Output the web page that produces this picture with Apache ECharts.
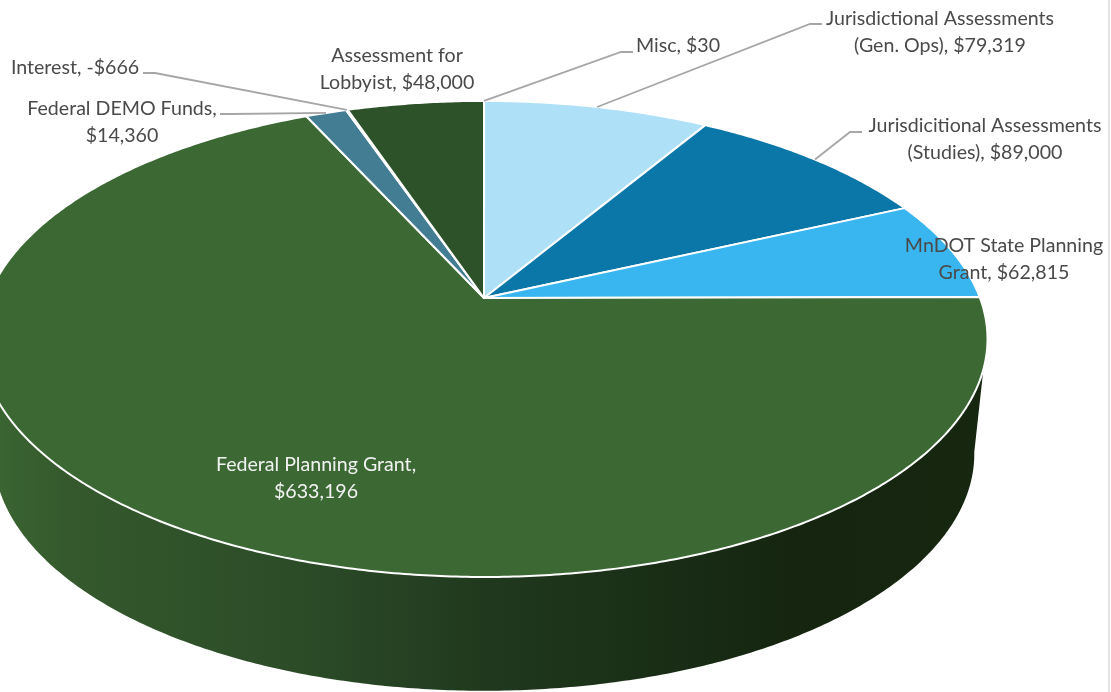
<!DOCTYPE html>
<html>
<head>
<meta charset="utf-8">
<style>html,body{margin:0;padding:0;background:#fff}#chart{width:1111px;height:692px}</style>
<script src="https://cdn.jsdelivr.net/npm/echarts@6/dist/echarts.min.js"></script>
</head>
<body>
<div id="chart"></div>
<script>
// Budget revenue sources, listed clockwise from twelve o'clock.
const sources = [
  'Misc',
  'Jurisdictional Assessments\n(Gen. Ops)',
  'Jurisdicitional Assessments\n(Studies)',
  'MnDOT State Planning\nGrant',
  'Federal Planning Grant',
  'Federal DEMO Funds',
  'Interest',
  'Assessment for\nLobbyist'
];
const amounts = [30, 79319, 89000, 62815, 633196, 14360, -666, 48000];
const sliceColors = ['#aee1f8', '#aee1f8', '#0b76a8', '#39b6ef', '#3c6834', '#437d94', '#4f8fa8', '#2d5229'];
// Sources whose amount sits on its own line below the name.
const amountOnNewLine = ['Federal DEMO Funds', 'Federal Planning Grant'];

// Label placement: centre of the text block, then the elbow of the leader line.
const labelLayout = [
  { x: 678, y: 46,  elbow: [[633, 52], [621, 52]] },
  { x: 940, y: 32,  elbow: [[822, 24], [810, 24]] },
  { x: 985, y: 139, elbow: [[862, 132], [850, 132]] },
  { x: 1004, y: 259 },
  { x: 316, y: 478, color: '#f2f2f2' },
  { x: 122, y: 122, elbow: [[220, 114], [232, 114]] },
  { x: 75,  y: 68,  elbow: [[143, 73], [155, 73]] },
  { x: 397, y: 69 }
];

// Perspective of the tilted disc.
const apex = { x: 484, y: 298 };
const tilt = -0.172;
const spreadX = 496;
const spreadY = 231;
const lowerRim = { drop: 115, spreadX: 483, spreadY: 230 };

const totalSize = amounts.reduce((sum, v) => sum + Math.abs(v), 0);
const spans = [];
amounts.reduce((start, v) => {
  const end = start + Math.abs(v) / totalSize * 360;
  spans.push([start, end]);
  return end;
}, 0);

// Projects a clockwise angle on the disc to screen space, on the top rim or the lower rim.
function project(deg, lower) {
  const r = deg * Math.PI / 180;
  const X = Math.sin(r), Y = -Math.cos(r);
  const w = 1 + tilt * Y;
  return [
    apex.x + (lower ? lowerRim.spreadX : spreadX) * X / w,
    apex.y + (lower ? lowerRim.drop : 0) + (lower ? lowerRim.spreadY : spreadY) * Y / w
  ];
}
function arc(from, to, lower) {
  const pts = [];
  const steps = Math.max(1, Math.ceil(Math.abs(to - from) * 2));
  for (let i = 0; i <= steps; i++) pts.push(project(from + (to - from) * i / steps, lower));
  return pts;
}
function formatAmount(v) {
  return (v < 0 ? '-$' : '$') + Math.abs(v).toLocaleString('en-US');
}
function labelText(i) {
  const sep = amountOnNewLine.includes(sources[i]) ? ',\n' : ', ';
  return sources[i] + sep + formatAmount(amounts[i]);
}

const rows = amounts.map((v, i) => [i, v]);

// Front wall of the disc, visible between the two silhouette tangents.
const wallTop = [107, 253];
const wallBottom = [99.5, 260.5];
const wallSeries = {
  type: 'custom',
  coordinateSystem: 'none',
  silent: true,
  z: 1,
  data: rows,
  renderItem(params, api) {
    const [a, b] = spans[api.value(0)];
    if (b <= wallTop[0] || a >= wallTop[1]) return { type: 'group', children: [] };
    const upper = arc(Math.max(a, wallTop[0]), Math.min(b, wallTop[1]), false);
    const lowerEdge = arc(Math.min(b, wallBottom[1]), Math.max(a, wallBottom[0]), true);
    return {
      type: 'polygon',
      shape: { points: upper.concat(lowerEdge) },
      style: {
        fill: new echarts.graphic.LinearGradient(0, 0, 1100, 0, [
          { offset: 0, color: '#3a6431' },
          { offset: 0.06, color: '#35592d' },
          { offset: 0.28, color: '#2b4b27' },
          { offset: 0.44, color: '#20391e' },
          { offset: 0.72, color: '#152510' },
          { offset: 1, color: '#172810' }
        ], true),
        stroke: null
      }
    };
  }
};

// Top face: one wedge per source.
const faceSeries = {
  type: 'custom',
  coordinateSystem: 'none',
  silent: true,
  z: 2,
  data: rows,
  renderItem(params, api) {
    const i = api.value(0);
    const [a, b] = spans[i];
    return {
      type: 'polygon',
      shape: { points: [[apex.x, apex.y]].concat(arc(a, b, false)) },
      style: { fill: sliceColors[i], stroke: '#ffffff', lineWidth: 2, lineJoin: 'round' }
    };
  }
};

// Leader lines and the value labels.
const labelSeries = {
  type: 'custom',
  coordinateSystem: 'none',
  silent: true,
  z: 3,
  data: rows,
  renderItem(params, api) {
    const i = api.value(0);
    const spot = labelLayout[i];
    const children = [];
    if (spot.elbow) {
      const mid = (spans[i][0] + spans[i][1]) / 2;
      children.push({
        type: 'polyline',
        shape: { points: spot.elbow.concat([project(mid, false)]) },
        style: { fill: null, stroke: '#a6a6a6', lineWidth: 1.8 }
      });
    }
    children.push({
      type: 'text',
      x: spot.x,
      y: spot.y,
      style: {
        text: labelText(i),
        fill: spot.color || '#4a4a4a',
        font: '19.6px Lato, "Open Sans", sans-serif',
        align: 'center',
        verticalAlign: 'middle',
        lineHeight: 27
      }
    });
    return { type: 'group', children };
  }
};

const chart = echarts.init(document.getElementById('chart'));
chart.setOption({
  animation: false,
  backgroundColor: '#ffffff',
  // Thin frame edge along the right of the canvas.
  graphic: [{
    type: 'rect',
    silent: true,
    shape: { x: 1108, y: 0, width: 2, height: 692 },
    style: { fill: '#e4e4e4' }
  }],
  series: [wallSeries, faceSeries, labelSeries]
});
</script>
</body>
</html>
